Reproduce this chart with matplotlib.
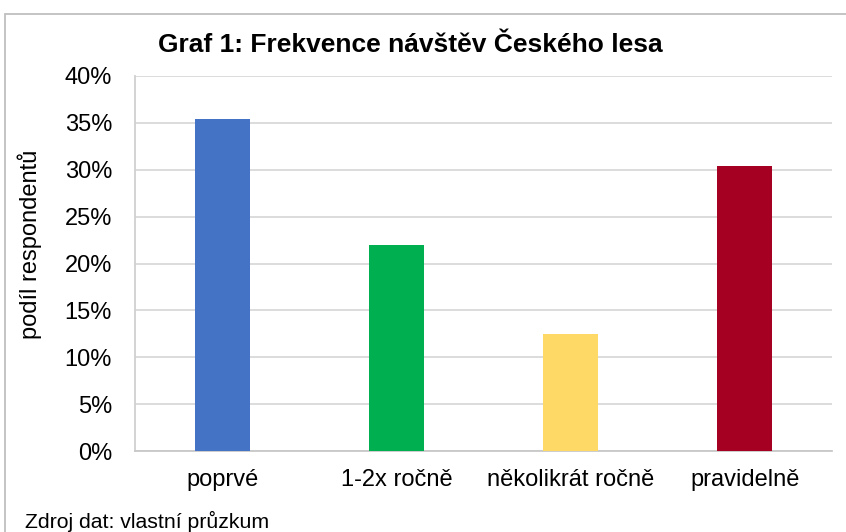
import matplotlib.pyplot as plt
from matplotlib.patches import Rectangle
from matplotlib.ticker import PercentFormatter

categories = ["poprvé", "1-2x ročně", "několikrát ročně", "pravidelně"]
shares = [35.4, 21.95, 12.45, 30.35]
colors = ["#4472C4", "#00B050", "#FFD966", "#A50021"]
yticks = [0, 5, 10, 15, 20, 25, 30, 35, 40]

plt.rcParams['font.family'] = ['Liberation Sans', 'DejaVu Sans']

W, H = 846, 532
fig = plt.figure(figsize=(W / 100, H / 100), dpi=100)
ax = fig.add_axes([135 / W, 1 - 451 / H, (832 - 135) / W, (451 - 76) / H])

ax.bar(range(len(categories)), shares, width=0.316, color=colors, zorder=3)
ax.set_xlim(-0.5, len(categories) - 0.5)
ax.set_ylim(0, 40)
ax.set_yticks(yticks)
ax.yaxis.set_major_formatter(PercentFormatter(decimals=0))
ax.set_xticks(range(len(categories)))
ax.set_xticklabels(categories)
ax.tick_params(axis='both', length=0, labelsize=17, colors='#000000')
ax.tick_params(axis='x', pad=13)
ax.tick_params(axis='y', pad=16.5)
ax.grid(axis='y', color='#D9D9D9', linewidth=1.3, zorder=0)

for side in ['top', 'right']:
    ax.spines[side].set_visible(False)
ax.spines['left'].set_color('#D0D0D0')
ax.spines['left'].set_linewidth(1.3)
ax.spines['bottom'].set_color('#C8C8C8')
ax.spines['bottom'].set_linewidth(1.3)

ax.set_ylabel("podíl respondentů", fontsize=17)
ax.yaxis.set_label_coords(-0.133, 0.55)

fig.text(410 / W, 1 - 45 / H, "Graf 1: Frekvence návštěv Českého lesa",
         ha='center', va='center', fontsize=19, fontweight='bold')
fig.text(25 / W, 1 - 521 / H, "Zdroj dat: vlastní průzkum",
         ha='left', va='center', fontsize=15.3)

fig.patches.append(Rectangle((5 / W, -0.1), 1.2, 1 - 14 / H + 0.1,
                             transform=fig.transFigure, fill=False,
                             edgecolor='#BFBFBF', linewidth=1.3))

fig.savefig("out.png", dpi=100)
